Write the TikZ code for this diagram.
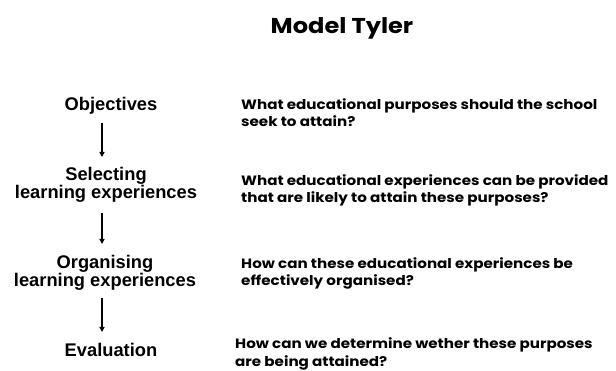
\documentclass[tikz,border=0pt]{standalone}
\usepackage{fontspec}
\setmainfont{Liberation Sans}
\newfontfamily\comic[FakeStretch=1.12]{Poppins}
\usetikzlibrary{arrows.meta}
\tikzset{
  lbl/.style={font=\fontsize{18.3}{18.5}\selectfont\bfseries, align=center, inner sep=0pt},
  qst/.style={font=\comic\fontsize{13.5}{17.5}\selectfont\bfseries, align=left, inner sep=0pt, anchor=base west},
  ttl/.style={font=\comic\fontsize{21.5}{24}\selectfont\bfseries, inner sep=0pt, anchor=base},
  arr/.style={line width=1.3pt, -{Triangle[length=5pt,width=5pt]}}
}
\begin{document}
\begin{tikzpicture}[x=1pt,y=-1pt]
\useasboundingbox (0,0) rectangle (616,371);
\node[ttl] (title) at (342,34) {Model Tyler};
\node[lbl] (obj) at (111,106) {Objectives};
\node[lbl] (sel) at (106,185) {Selecting\\learning experiences};
\node[lbl] (org) at (105,273) {Organising\\learning experiences};
\node[lbl] (eva) at (111,350) {Evaluation};
\coordinate (ax) at (102,0);
\draw[arr] ([yshift=-123pt]ax) -- ([yshift=-157pt]ax);
\draw[arr] ([yshift=-213pt]ax) -- ([yshift=-244pt]ax);
\draw[arr] ([yshift=-298pt]ax) -- ([yshift=-332pt]ax);
\node[qst] (q1) at (241,127) {What educational purposes should the school\\seek to attain?};
\node[qst] (q2) at (241,203) {What educational experiences can be provided\\that are likely to attain these purposes?};
\node[qst] (q3) at (241,286) {How can these educational experiences be\\effectively organised?};
\node[qst] (q4) at (235,366.5) {How can we determine wether these purposes\\are being attained?};
\end{tikzpicture}
\end{document}
